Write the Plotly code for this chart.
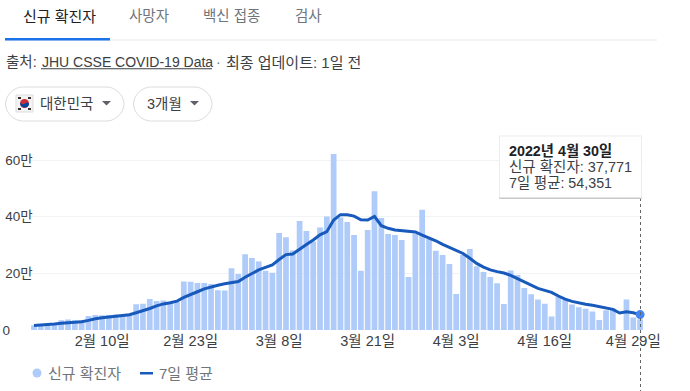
import pandas as pd
import plotly.graph_objects as go

W, H = 690, 391
days = [f"{d.month}월 {d.day}일" for d in pd.date_range("2022-01-31", periods=90)]
new_cases = [17000,18000,20000,23000,34000,37000,34000,35000,49000,53000,
             52000,53000,55000,53000,57000,91000,93000,109000,102000,104000,
             95000,99000,171000,170000,166000,166000,162000,140000,139000,218000,
             198000,267000,254000,242000,209000,202000,342000,327000,281000,385000,
             349000,312000,362000,401000,621000,397000,381000,335000,209000,353000,
             490000,395000,339000,335000,318000,187000,341000,424000,321000,280000,
             265000,233000,127000,265000,286000,225000,205000,187000,165000,92000,
             210000,194000,148000,126000,108000,93000,48000,118000,110000,90000,
             80000,75000,65000,35000,70000,76000,0,108000,44000,37771]
avg_7d = [16000,17000,19000,21000,24000,26000,28000,29000,34000,40000,
          43000,46000,48000,50000,54000,61000,68000,76000,85000,92000,
          96000,102000,115000,126000,135000,145000,152000,158000,163000,167000,
          171000,186000,200000,212000,221000,230000,249000,266000,268000,286000,
          302000,318000,336000,347000,388000,407000,407000,402000,389000,388000,
          401000,368000,359000,353000,350000,348000,346000,335000,325000,315000,
          302000,291000,282000,270000,253000,235000,222000,212000,206000,201000,
          193000,181000,169000,158000,147000,140000,133000,120000,109000,101000,
          95000,91000,87000,83000,78000,73000,60000,64000,61000,54351]
x_ticks = ["2월 10일", "2월 23일", "3월 8일", "3월 21일", "4월 3일", "4월 16일", "4월 29일"]
y_ticks = [0, 200000, 400000, 600000]
y_labels = ["0" + "\u00a0" * 6, "20만", "40만", "60만"]
tabs = ["신규 확진자", "사망자", "백신 접종", "검사"]
series_names = ["신규 확진자", "7일 평균"]

FONT = "Liberation Sans, Noto Sans CJK KR, sans-serif"
DARK, GREY = "#3c4043", "#70757a"
BAR, LINE, DOT = "#aecbfa", "#185abc", "#4285f4"


def px(x):
    return x / W


def py(y):
    return 1 - y / H


def rect(x0, y0, x1, y1, **kw):
    return dict(type="rect", xref="paper", yref="paper", x0=px(x0), x1=px(x1),
                y0=py(y0), y1=py(y1), layer="above", **kw)


def label(x, y, text, size=14.5, color=DARK, anchor="left"):
    return dict(xref="paper", yref="paper", x=px(x), y=py(y), text=text, showarrow=False,
                xanchor=anchor, yanchor="middle", align="left",
                font=dict(family=FONT, size=size, color=color), borderpad=0)


def chip(x0, x1, y0, y1):
    r = (y1 - y0) / 2
    path = (f"M {px(x0 + r)} {py(y0)} L {px(x1 - r)} {py(y0)} "
            f"C {px(x1 - r / 2)} {py(y0)} {px(x1)} {py(y0 + r / 2)} {px(x1)} {py(y0 + r)} "
            f"C {px(x1)} {py(y1 - r / 2)} {px(x1 - r / 2)} {py(y1)} {px(x1 - r)} {py(y1)} "
            f"L {px(x0 + r)} {py(y1)} "
            f"C {px(x0 + r / 2)} {py(y1)} {px(x0)} {py(y1 - r / 2)} {px(x0)} {py(y0 + r)} "
            f"C {px(x0)} {py(y0 + r / 2)} {px(x0 + r / 2)} {py(y0)} {px(x0 + r)} {py(y0)} Z")
    return dict(type="path", xref="paper", yref="paper", path=path,
                line=dict(color="#dadce0", width=1), fillcolor="white", layer="above")


def tri(x):
    path = f"M {px(x)} {py(101)} L {px(x + 9)} {py(101)} L {px(x + 4.5)} {py(105.5)} Z"
    return dict(type="path", xref="paper", yref="paper", path=path,
                fillcolor="#5f6368", line=dict(width=0), layer="above")


def circ(cx, cy, r, color):
    return dict(type="circle", xref="paper", yref="paper", x0=px(cx - r), x1=px(cx + r),
                y0=py(cy - r), y1=py(cy + r), fillcolor=color, line=dict(width=0), layer="above")


fig = go.Figure()
fig.add_bar(x=days, y=new_cases, name=series_names[0], marker=dict(color=BAR, line=dict(width=0)),
            width=0.84)
fig.add_scatter(x=days, y=avg_7d, name=series_names[1], mode="lines",
                line=dict(color=LINE, width=3))
fig.add_scatter(x=days[-1:], y=avg_7d[-1:], mode="markers", showlegend=False,
                marker=dict(color=DOT, size=9), cliponaxis=False)

shapes = [
    rect(5, 39.5, 657, 40.5, fillcolor="#e8eaed", line=dict(width=0)),
    rect(5, 38, 110, 40.5, fillcolor="#1a73e8", line=dict(width=0)),
    chip(5.5, 124, 87, 121), chip(133.5, 212, 87, 121),
    rect(16, 95, 33, 112, fillcolor="#f4f4f4", line=dict(color="#dddddd", width=1)),
    circ(24.5, 103.5, 4.5, "#cd2e3a"),
    dict(type="path", xref="paper", yref="paper", fillcolor="#0047a0", line=dict(width=0), layer="above",
         path=f"M {px(20)} {py(102.5)} C {px(22)} {py(105)} {px(24)} {py(104)} {px(25)} {py(103.5)} "
              f"C {px(26)} {py(102.5)} {px(28)} {py(102)} {px(29)} {py(103.5)} "
              f"C {px(29)} {py(109)} {px(20)} {py(109)} {px(20)} {py(102.5)} Z"),
    rect(18, 97, 21, 99, fillcolor="#333333", line=dict(width=0)),
    rect(28, 97, 31, 99, fillcolor="#333333", line=dict(width=0)),
    rect(18, 108, 21, 110, fillcolor="#333333", line=dict(width=0)),
    rect(28, 108, 31, 110, fillcolor="#333333", line=dict(width=0)),
    tri(102), tri(190),
    rect(41, 68.2, 212, 69.2, fillcolor=DARK, line=dict(width=0)),
    dict(type="line", xref="paper", yref="paper", x0=px(640.5), x1=px(640.5), y0=py(198), y1=py(391),
         line=dict(color="#5f6368", width=1, dash="dot"), layer="above"),
    rect(499, 135.5, 642, 199, fillcolor="#ececec", line=dict(width=0)),
    rect(499.5, 197, 641.5, 199, fillcolor="#c8c8c8", line=dict(width=0)),
    rect(500, 136.5, 641, 197.5, fillcolor="white", line=dict(width=0)),
    circ(37, 373, 4.5, BAR),
    rect(140, 372, 153, 374.5, fillcolor=LINE, line=dict(width=0)),
]

annotations = [
    label(21.5, 16, tabs[0], 15, "#202124"),
    label(127.5, 16, tabs[1], 14.5, GREY),
    label(201.5, 16, tabs[2], 14.5, GREY),
    label(293.5, 16, tabs[3], 14.5, GREY),
    label(4.5, 62, "출처:", 14.5),
    label(41, 62, "JHU CSSE COVID-19 Data", 14),
    label(215, 62, "·", 14, GREY),
    label(224.5, 62, "최종 업데이트: 1일 전", 15),
    label(38.5, 104, "대한민국", 14.5),
    label(145.5, 104, "3개월", 14.5),
    label(508, 151, "<b>2022년 4월 30일</b>", 14.3, "#202124"),
    label(508, 167, f"신규 확진자: {new_cases[-1]:,}", 14.5),
    label(508, 183, f"7일 평균: {avg_7d[-1]:,}", 14.3),
    label(46.5, 373, series_names[0], 15, GREY),
    label(157.5, 373, series_names[1], 15, GREY),
]

x0_px, step = 34.0, 6.81
left, right = 30.6, 643.4
y_top_px, y_bot_px = 150, 330
tick_font = dict(family=FONT, size=14.5, color=DARK)
fig.update_layout(
    width=W, height=H, autosize=False, showlegend=False,
    margin=dict(l=0, r=0, t=0, b=0, pad=0),
    paper_bgcolor="white", plot_bgcolor="white",
    font=dict(family=FONT, size=13, color=DARK), bargap=0.16,
    xaxis=dict(type="category", categoryorder="array", categoryarray=days, automargin=False,
               domain=[left / W, right / W],
               range=[(left - x0_px) / step, (right - x0_px) / step],
               tickmode="array", tickvals=x_ticks, ticktext=x_ticks, ticks="",
               showgrid=False, zeroline=False, showline=False,
               tickfont=tick_font, tickangle=0),
    yaxis=dict(domain=[1 - y_bot_px / H, 1 - y_top_px / H], automargin=False,
               range=[0, (y_bot_px - y_top_px) / 170 * 600000],
               tickmode="array", tickvals=y_ticks, ticktext=y_labels, ticks="",
               gridcolor="#f1f3f4", gridwidth=1, zeroline=False, showline=False,
               ticklabelstandoff=-3,
               tickfont=dict(family=FONT, size=13.5, color=DARK)),
    shapes=shapes, annotations=annotations,
)
fig.write_html("out.html", config=dict(displayModeBar=False),
               post_script="document.body.style.margin='0';")
